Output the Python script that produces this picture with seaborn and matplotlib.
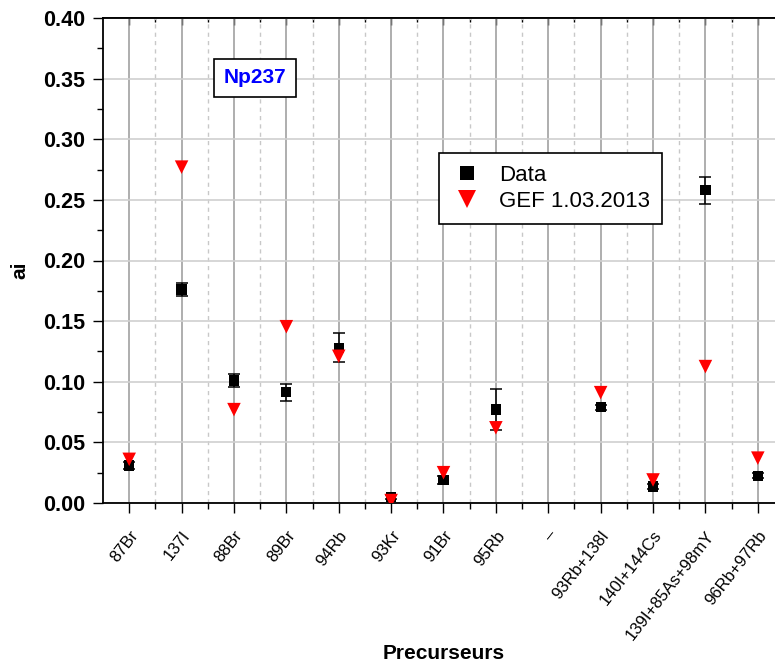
import numpy as np
import pandas as pd
import seaborn as sns
import matplotlib.pyplot as plt
from matplotlib.ticker import MultipleLocator, FixedLocator

# Data
precursors = ['87Br', '137I', '88Br', '89Br', '94Rb', '93Kr', '91Br', '95Rb', '\u2013',
              '93Rb+138I', '140I+144Cs', '139I+85As+98mY', '96Rb+97Rb']
data_ai = [0.031, 0.176, 0.101, 0.0915, 0.128, 0.005, 0.019, 0.077, np.nan,
           0.079, 0.0135, 0.258, 0.0225]
data_err = [0.003, 0.0055, 0.005, 0.007, 0.012, 0.002, 0.003, 0.017, np.nan,
            0.002, 0.002, 0.011, 0.002]
gef_ai = [0.036, 0.277, 0.077, 0.1454, 0.121, 0.002, 0.025, 0.062, np.nan,
          0.091, 0.019, 0.1125, 0.037]

df = pd.DataFrame({
    'Precurseurs': precursors * 2,
    'ai': data_ai + gef_ai,
    'serie': ['Data'] * len(precursors) + ['GEF 1.03.2013'] * len(precursors),
})

# Setting plot properties.
sns.set_theme(style='white')
plt.rcParams['font.family'] = ['Liberation Sans', 'DejaVu Sans']
plt.rcParams['text.color'] = 'black'
plt.rcParams['xtick.color'] = 'black'
plt.rcParams['ytick.color'] = 'black'
plt.rcParams['axes.labelcolor'] = 'black'
fig = plt.figure(figsize=(7.75, 6.67), dpi=100)
ax = fig.add_axes([103 / 775, 1 - 503 / 667, 681 / 775, 485 / 667])

sns.scatterplot(data=df, x='Precurseurs', y='ai', hue='serie', style='serie',
                size='serie',
                palette={'Data': 'black', 'GEF 1.03.2013': 'red'},
                markers={'Data': 's', 'GEF 1.03.2013': 'v'},
                sizes={'Data': 55, 'GEF 1.03.2013': 95},
                linewidth=0, ax=ax, zorder=4)

# Error bars on data
pos = np.arange(len(precursors))
ax.errorbar(pos, data_ai, yerr=data_err, fmt='none', ecolor='black',
            elinewidth=1.1, capsize=4, capthick=1.1, zorder=3)

# Configuring axis.
ax.set_xlim(-0.5, len(precursors) - 0.5)
ax.set_ylim(0, 0.40)
ax.yaxis.set_major_locator(MultipleLocator(0.05))
ax.yaxis.set_minor_locator(MultipleLocator(0.025))
ax.xaxis.set_major_locator(FixedLocator(pos))
ax.xaxis.set_minor_locator(FixedLocator(pos[:-1] + 0.5))
ax.set_yticks(np.arange(0, 0.401, 0.05))
ax.set_yticklabels(['%.2f' % v for v in np.arange(0, 0.401, 0.05)],
                   fontsize=15.5, fontweight='bold')
ax.set_xticks(pos)
ax.set_xticklabels(precursors, rotation=52, ha='right', rotation_mode='anchor',
                   fontsize=12)
ax.tick_params(axis='x', which='major', direction='out', length=7, width=1,
               pad=11, bottom=True)
ax.tick_params(axis='x', which='minor', direction='out', length=4, width=1,
               bottom=True)
ax.tick_params(axis='y', which='major', direction='out', length=7, width=1,
               pad=6, left=True)
ax.tick_params(axis='y', which='minor', direction='out', length=4, width=1,
               left=True)

# Inward ticks on the top edge
top = ax.secondary_xaxis('top')
top.xaxis.set_major_locator(FixedLocator(pos))
top.xaxis.set_minor_locator(FixedLocator(pos[:-1] + 0.5))
top.tick_params(which='major', direction='in', length=5, width=1, labeltop=False)
top.tick_params(which='minor', direction='in', length=3, width=1)
top.spines['top'].set_linewidth(1.3)

# Grids
ax.grid(axis='x', which='major', color='#999999', linewidth=1.1, linestyle='-')
ax.grid(axis='x', which='minor', color='#c8c8c8', linewidth=1.0, linestyle=(0, (3, 3)))
ax.grid(axis='y', which='major', color='#d0d0d0', linewidth=1.2, linestyle='-')
ax.set_axisbelow(True)

for side in ['left', 'bottom', 'top']:
    ax.spines[side].set_color('black')
    ax.spines[side].set_linewidth(1.3)
ax.spines['right'].set_visible(False)

ax.set_xlabel('Precurseurs', fontsize=15, fontweight='bold')
ax.set_ylabel('ai', fontsize=15, fontweight='bold')
ax.yaxis.set_label_coords(-0.108, 0.48)
ax.xaxis.set_label_coords(0.5, -0.29)

# Label box
ax.text(0.223, 0.877, 'Np237', transform=ax.transAxes, color='blue',
        fontsize=15, fontweight='bold', ha='center', va='center',
        bbox=dict(boxstyle='square,pad=0.45', fc='white', ec='black', lw=1.2))

# Setting titles and legends.
leg = ax.legend(loc='upper left', bbox_to_anchor=(336 / 681, 1 - 135 / 485),
                borderaxespad=0, frameon=True, fancybox=False, fontsize=16,
                handlelength=1.4, handletextpad=0.75, borderpad=0.55,
                labelspacing=0.2, markerscale=1.3, title=None)
leg.get_frame().set_edgecolor('black')
leg.get_frame().set_linewidth(1.2)
leg.get_frame().set_facecolor('white')
leg.get_frame().set_alpha(1)

fig.savefig('out.png', dpi=100)
